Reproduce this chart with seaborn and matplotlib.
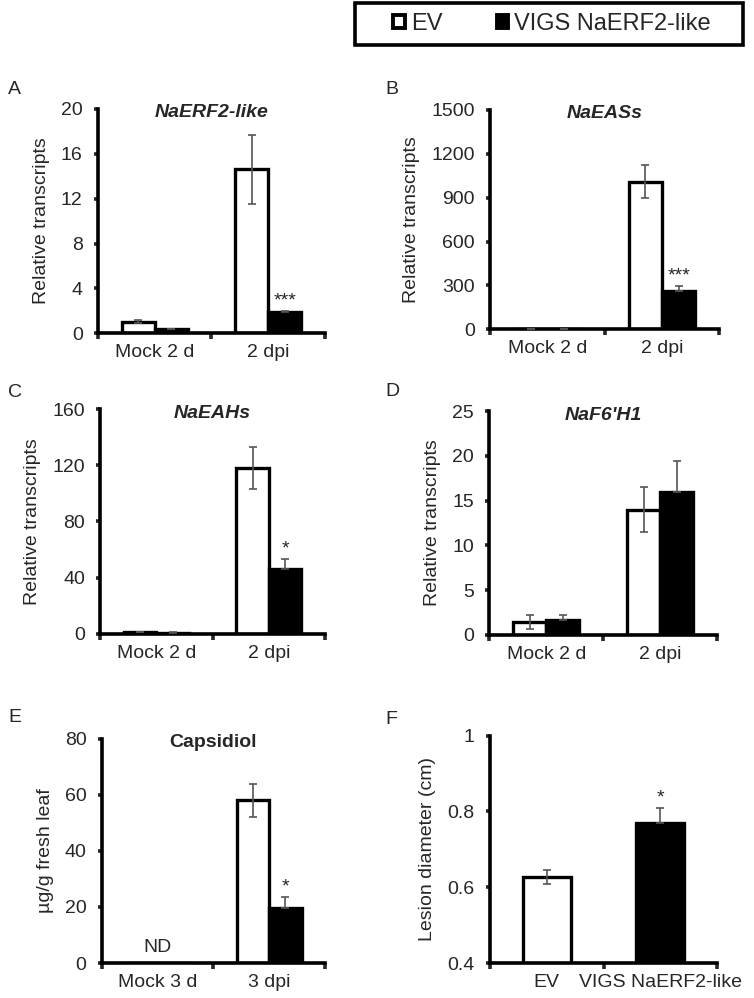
import pandas as pd
import matplotlib
matplotlib.use("Agg")
import matplotlib.pyplot as plt
import seaborn as sns
from matplotlib.patches import Patch, Rectangle

sns.set_style("ticks")
plt.rcParams["font.family"] = ["Liberation Sans", "DejaVu Sans"]

groups = ["EV", "VIGS NaERF2-like"]
days2 = ["Mock 2 d", "2 dpi"]
days3 = ["Mock 3 d", "3 dpi"]

# A  NaERF2-like
erf_ev, erf_ev_se = [1.05, 14.6], [0.12, 3.05]
erf_vi, erf_vi_se = [0.4, 1.9], [0.03, 0.06]
# B  NaEASs
eas_ev, eas_ev_se = [1.5, 1010], [0.3, 115]
eas_vi, eas_vi_se = [1.0, 260], [0.2, 35]
# C  NaEAHs
eah_ev, eah_ev_se = [1.2, 118], [0.2, 15]
eah_vi, eah_vi_se = [0.8, 46], [0.1, 7]
# D  NaF6'H1
f6h_ev, f6h_ev_se = [1.4, 14.0], [0.8, 2.5]
f6h_vi, f6h_vi_se = [1.6, 16.0], [0.6, 3.4]
# E  capsidiol (mock not detected)
cap_ev, cap_ev_se = [0.0, 58.0], [0.0, 5.8]
cap_vi, cap_vi_se = [0.0, 19.5], [0.0, 4.0]
# F  lesion diameter
lesion = [0.627, 0.77]
lesion_se = [0.018, 0.04]

colors = {"EV": "white", "VIGS NaERF2-like": "black"}
ERR_C = "#555555"


def style_axis(ax, ncat):
    sns.despine(ax=ax)
    for s in ["left", "bottom"]:
        ax.spines[s].set_linewidth(2.6)
        ax.spines[s].set_color("black")
    ax.set_xlim(-0.5, ncat - 0.5)
    ax.set_xticks([i - 0.5 for i in range(ncat + 1)], minor=True)
    ax.tick_params(axis="x", which="major", length=0, labelsize=14, pad=8)
    ax.tick_params(axis="x", which="minor", length=4, width=2.6, direction="out")
    ax.tick_params(axis="y", length=3, width=2.6, labelsize=14, pad=8)
    ax.set_xlabel("")


def panel(ax, cats, ev, ev_se, vi, vi_se, title, ylim, yticks, ylabel,
          stars=("", ""), italic=True):
    df = pd.DataFrame({
        "cond": cats * 2,
        "group": [groups[0]] * len(cats) + [groups[1]] * len(cats),
        "value": ev + vi,
    })
    sns.barplot(data=df, x="cond", y="value", hue="group", palette=colors,
                edgecolor="black", linewidth=2.4, width=0.58, errorbar=None,
                saturation=1, legend=False, ax=ax)
    for ci, (cont, se) in enumerate(zip(ax.containers, [ev_se, vi_se])):
        for bar, err in zip(cont, se):
            if err <= 0:
                continue
            x = bar.get_x() + bar.get_width() / 2
            h = bar.get_height()
            yerr = [[err], [err]] if ci == 0 else [[0], [err]]
            ax.errorbar(x, h, yerr=yerr, fmt="none", ecolor=ERR_C,
                        elinewidth=1.2, capsize=3, capthick=1.2, zorder=5)
    # significance marks above VIGS bars
    for bar, err, st in zip(ax.containers[1], vi_se, stars):
        if st:
            x = bar.get_x() + bar.get_width() / 2
            ax.annotate(st, (x, bar.get_height() + err), xytext=(0, 1),
                        textcoords="offset points", ha="center", va="bottom",
                        fontsize=14)
    ax.set_ylim(*ylim)
    ax.set_yticks(yticks)
    ax.set_ylabel(ylabel, fontsize=14, labelpad=8)
    ax.text(0.5, 1.02, title, transform=ax.transAxes, ha="center", va="top",
            fontsize=14, fontweight="bold",
            fontstyle="italic" if italic else "normal")
    style_axis(ax, len(cats))


fig = plt.figure(figsize=(7.54, 9.98), dpi=100)

axA = fig.add_axes([0.130, 0.666, 0.301, 0.225])
axB = fig.add_axes([0.650, 0.670, 0.304, 0.220])
axC = fig.add_axes([0.133, 0.365, 0.298, 0.225])
axD = fig.add_axes([0.649, 0.364, 0.302, 0.224])
axE = fig.add_axes([0.135, 0.035, 0.296, 0.225])
axF = fig.add_axes([0.650, 0.035, 0.301, 0.228])

rel = "Relative transcripts"
panel(axA, days2, erf_ev, erf_ev_se, erf_vi, erf_vi_se, "NaERF2-like",
      (0, 20), [0, 4, 8, 12, 16, 20], rel, stars=("", "***"))
panel(axB, days2, eas_ev, eas_ev_se, eas_vi, eas_vi_se, "NaEASs",
      (0, 1500), [0, 300, 600, 900, 1200, 1500], rel, stars=("", "***"))
panel(axC, days2, eah_ev, eah_ev_se, eah_vi, eah_vi_se, "NaEAHs",
      (0, 160), [0, 40, 80, 120, 160], rel, stars=("", "*"))
panel(axD, days2, f6h_ev, f6h_ev_se, f6h_vi, f6h_vi_se, "NaF6'H1",
      (0, 25), [0, 5, 10, 15, 20, 25], rel)
panel(axE, days3, cap_ev, cap_ev_se, cap_vi, cap_vi_se, "Capsidiol",
      (0, 80), [0, 20, 40, 60, 80], "µg/g fresh leaf", stars=("", "*"),
      italic=False)
axE.text(0, 2.5, "ND", ha="center", va="bottom", fontsize=14)

# F: lesion diameter
dfF = pd.DataFrame({"group": groups, "value": lesion})
sns.barplot(data=dfF, x="group", y="value", hue="group", palette=colors,
            edgecolor="black", linewidth=2.4, width=0.42, errorbar=None,
            saturation=1, legend=False, ax=axF)
for ci, (cont, err) in enumerate(zip(axF.containers, lesion_se)):
    bar = cont[0]
    x = bar.get_x() + bar.get_width() / 2
    h = bar.get_height()
    yerr = [[err], [err]] if ci == 0 else [[0], [err]]
    axF.errorbar(x, h, yerr=yerr, fmt="none", ecolor=ERR_C, elinewidth=1.2,
                 capsize=3, capthick=1.2, zorder=5)
    if ci == 1:
        axF.annotate("*", (x, h + err), xytext=(0, 1), textcoords="offset points",
                     ha="center", va="bottom", fontsize=14)
axF.set_ylim(0.4, 1.0)
axF.set_yticks([0.4, 0.6, 0.8, 1.0])
axF.set_yticklabels(["0.4", "0.6", "0.8", "1"])
axF.set_ylabel("Lesion diameter (cm)", fontsize=14, labelpad=8)
style_axis(axF, 2)

# panel letters
for lab, x, y in [("A", 8, 81), ("B", 385, 81), ("C", 8, 384),
                  ("D", 385, 383), ("E", 8, 709), ("F", 385, 711)]:
    fig.text(x / 754, 1 - y / 998, lab, fontsize=14, ha="left", va="top")

# legend box at the top
fig.patches.append(Rectangle((355 / 754, 1 - 45 / 998), 388 / 754, 42 / 998,
                             transform=fig.transFigure, facecolor="white",
                             edgecolor="black", linewidth=2.6, zorder=1))
handles = [Patch(facecolor="white", edgecolor="black", linewidth=2.8),
           Patch(facecolor="black", edgecolor="black", linewidth=2.8)]
leg = fig.legend(handles, groups, loc="center", bbox_to_anchor=(552 / 754, 1 - 24 / 998),
                 ncol=2, frameon=False, fontsize=17, handlelength=0.5,
                 handleheight=0.5, handletextpad=0.25, columnspacing=2.3,
                 borderaxespad=0)
leg.set_zorder(2)

fig.savefig("out.png", dpi=100)
